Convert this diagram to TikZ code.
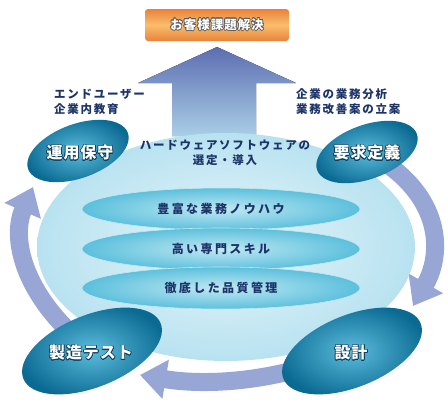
\documentclass[tikz,border=0pt]{standalone}
\usepackage{fontspec}
\usepackage{tikz}
\usepackage[copies]{contour}
\usetikzlibrary{arrows.meta,positioning,shapes.geometric,backgrounds}
\newfontfamily\jpfont{Noto Sans CJK JP}
\definecolor{navytext}{RGB}{28,52,104}
\definecolor{goaldark}{RGB}{233,130,58}
\definecolor{goallight}{RGB}{249,190,108}
\definecolor{arrowtop}{RGB}{92,110,178}
\definecolor{arrowbot}{RGB}{170,206,230}
\definecolor{corein}{RGB}{230,246,251}
\definecolor{coreout}{RGB}{184,226,240}
\definecolor{skillin}{RGB}{192,232,243}
\definecolor{skillout}{RGB}{92,192,220}
\definecolor{phasein}{RGB}{92,188,220}
\definecolor{phaseout}{RGB}{10,106,146}
\definecolor{phaseshade}{RGB}{12,62,88}
\definecolor{cycband}{RGB}{152,166,214}
\contourlength{0.6pt}

\begin{document}
\begin{tikzpicture}[x=1pt, y=-1pt, font=\jpfont\bfseries,
  goalbox/.style={rounded corners=3pt, minimum width=144pt, minimum height=32pt, inner sep=0pt,
    top color=goaldark, bottom color=goaldark, middle color=goallight, text=white,
    font=\jpfont\bfseries\fontsize{12.5}{14}\selectfont\addfontfeatures{LetterSpace=8}},
  note/.style={text=navytext, align=left, inner sep=0pt,
    font=\jpfont\bfseries\fontsize{11.5}{15}\selectfont\addfontfeatures{LetterSpace=15}},
  core/.style={ellipse, minimum width=378pt, minimum height=228pt, inner sep=0pt,
    inner color=corein, outer color=coreout},
  skill/.style={ellipse, minimum width=278pt, minimum height=42pt, inner sep=0pt,
    draw=skillin, line width=0.6pt, inner color=skillin, outer color=skillout, text=navytext,
    font=\jpfont\bfseries\fontsize{12}{14}\selectfont\addfontfeatures{LetterSpace=20}},
  phase/.style={ellipse, inner sep=0pt, inner color=phasein, outer color=phaseout},
  phasetxt/.style={text=white, inner sep=0pt,
    font=\jpfont\bfseries\fontsize{16}{18}\selectfont\addfontfeatures{LetterSpace=6}},
  cyc/.style={draw=cycband, line width=18pt, -{Triangle[width=38pt,length=26pt]}}]
  \useasboundingbox (0,0) rectangle (448,405);

  % goal and the big arrow up to it
  \node[goalbox] (goal) at (217,25) {\contour{gray!70!black}{お客様課題解決}};
  \fill[top color=arrowtop, bottom color=arrowbot]
    (172,136) -- (172,83) -- (138,83) -- (217,47) -- (296,83) -- (256,83) -- (256,136) -- cycle;

  \node[note, anchor=west] (enduser) at (54,102) {エンドユーザー\\企業内教育};
  \node[note, anchor=west] (analysis) at (296,102) {企業の業務分析\\業務改善案の立案};

  % core skills
  \node[core] (core) at (226,247) {};
  \node[note, align=center, anchor=center] (select) at (225,153) {ハードウェアソフトウェアの\\選定・導入};
  \node[skill] (know) at (221,209) {豊富な業務ノウハウ};
  \node[skill] (expert) at (221,249) {高い専門スキル};
  \node[skill] (quality) at (221,288) {徹底した品質管理};

  % phases
  \node[phase, rotate=20, minimum width=106pt, minimum height=54pt] (unyo) at (78,151) {};
  \node[phase, rotate=20, minimum width=106pt, minimum height=54pt] (yokyu) at (367,152) {};
  \node[phase, rotate=22, minimum width=148pt, minimum height=72pt] (seizo) at (92,351) {};
  \node[phase, rotate=22, minimum width=148pt, minimum height=72pt] (sekkei) at (352,351) {};
  \node[phasetxt] (unyot) at (80,153) {\contour{phaseshade}{運用保守}};
  \node[phasetxt] (yokyut) at (367,153) {\contour{phaseshade}{要求定義}};
  \node[phasetxt] (seizot) at (91,353) {\contour{phaseshade}{製造テスト}};
  \node[phasetxt] (sekkeit) at (351,353) {\contour{phaseshade}{設計}};

  % cycle
  \coordinate (tipR) at (413,306);
  \coordinate (tipB) at (140,375);
  \coordinate (tipL) at (33,187);
  \begin{scope}[on background layer]
    \draw[cyc] (yokyu.center) .. controls (440,190) and (445,250) .. (tipR);
    \draw[cyc] (sekkei.center) .. controls (270,385) and (200,385) .. (tipB);
    \draw[cyc] (seizo.center) .. controls (25,300) and (10,240) .. (tipL);
  \end{scope}
\end{tikzpicture}
\end{document}
